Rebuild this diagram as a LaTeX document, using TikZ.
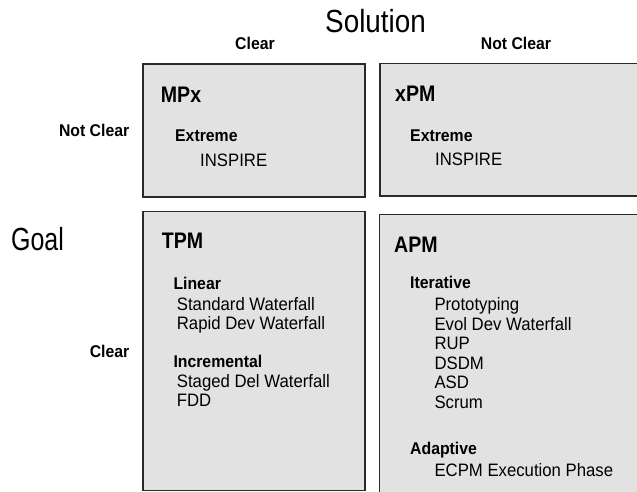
\documentclass[tikz,border=0pt]{standalone}
\usepackage{fontspec}
\setmainfont{Liberation Sans}[FakeStretch=0.87]
\newfontfamily\fA{Liberation Sans}[FakeStretch=0.87]
\newfontfamily\fB{Liberation Sans}[FakeStretch=0.93]
\newfontfamily\fC{Liberation Sans}[FakeStretch=0.78]
\definecolor{boxgray}{HTML}{E2E2E2}
\definecolor{edge}{HTML}{2A2A2A}
\tikzset{
  quad/.style={draw=edge, line width=1.5pt, fill=boxgray},
  ttl/.style={anchor=base west, inner sep=0pt, font=\fA\fontsize{22.5}{27}\selectfont\bfseries},
  sub/.style={anchor=base west, inner sep=0pt, font=\fB\fontsize{17}{20}\selectfont\bfseries},
  itm/.style={anchor=base west, inner sep=0pt, font=\fB\fontsize{18}{21}\selectfont},
  axis/.style={anchor=base west, inner sep=0pt, font=\fA\fontsize{32}{38}\selectfont},
  lbl/.style={inner sep=0pt, font=\fB\fontsize{17}{20}\selectfont\bfseries}
}
\begin{document}
\begin{tikzpicture}[x=1pt,y=-1pt]
\useasboundingbox (0,0) rectangle (637,492);
\clip (0,0) rectangle (637,492);
% quadrants
\draw[quad] (143,64) rectangle (365,197);
\draw[quad] (380,63.3) rectangle (720,196);
\draw[quad] (143,211.7) rectangle (365,490.5);
\draw[quad] (379.5,214.5) rectangle (720,560);
% axis titles
\node[axis] (sol) at (325,33) {Solution};
\node[axis, font=\fC\fontsize{32}{38}\selectfont] (goal) at (11,250) {Goal};
% column labels
\node[lbl, anchor=base] (cclear) at (255,50) {Clear};
\node[lbl, anchor=base] (cnclear) at (516,50) {Not Clear};
% row labels
\node[lbl, anchor=base east] (rnclear) at (129.5,136) {Not Clear};
\node[lbl, anchor=base east] (rclear) at (129.5,357) {Clear};
% MPx
\node[ttl] (mpx) at (160.7,102.7) {MPx};
\node[sub] (mpxext) at (175,141.7) {Extreme};
\node[itm] (mpxins) at (200,166) {INSPIRE};
% xPM
\node[ttl] (xpm) at (395,101.7) {xPM};
\node[sub] (xpmext) at (410,141.7) {Extreme};
\node[itm] (xpmins) at (435,165) {INSPIRE};
% TPM
\node[ttl] (tpm) at (161.7,248.3) {TPM};
\node[sub] (lin) at (173.3,289.3) {Linear};
\node[itm] (sw) at (176.7,310) {Standard Waterfall};
\node[itm] (rdw) at (176.7,329.5) {Rapid Dev Waterfall};
\node[sub] (inc) at (173.3,367.7) {Incremental};
\node[itm] (sdw) at (176.7,387.3) {Staged Del Waterfall};
\node[itm] (fdd) at (176.7,406.7) {FDD};
% APM
\node[ttl] (apm) at (394,252.3) {APM};
\node[sub] (itv) at (410,288.3) {Iterative};
\node[itm] (proto) at (434.3,310.5) {Prototyping};
\node[itm] (edw) at (434.3,330) {Evol Dev Waterfall};
\node[itm] (rup) at (434.3,349.5) {RUP};
\node[itm] (dsdm) at (434.3,369) {DSDM};
\node[itm] (asd) at (434.3,388.5) {ASD};
\node[itm] (scrum) at (434.3,408) {Scrum};
\node[sub] (adp) at (410,454) {Adaptive};
\node[itm] (ecpm) at (434.3,476) {ECPM Execution Phase};
\end{tikzpicture}
\end{document}
